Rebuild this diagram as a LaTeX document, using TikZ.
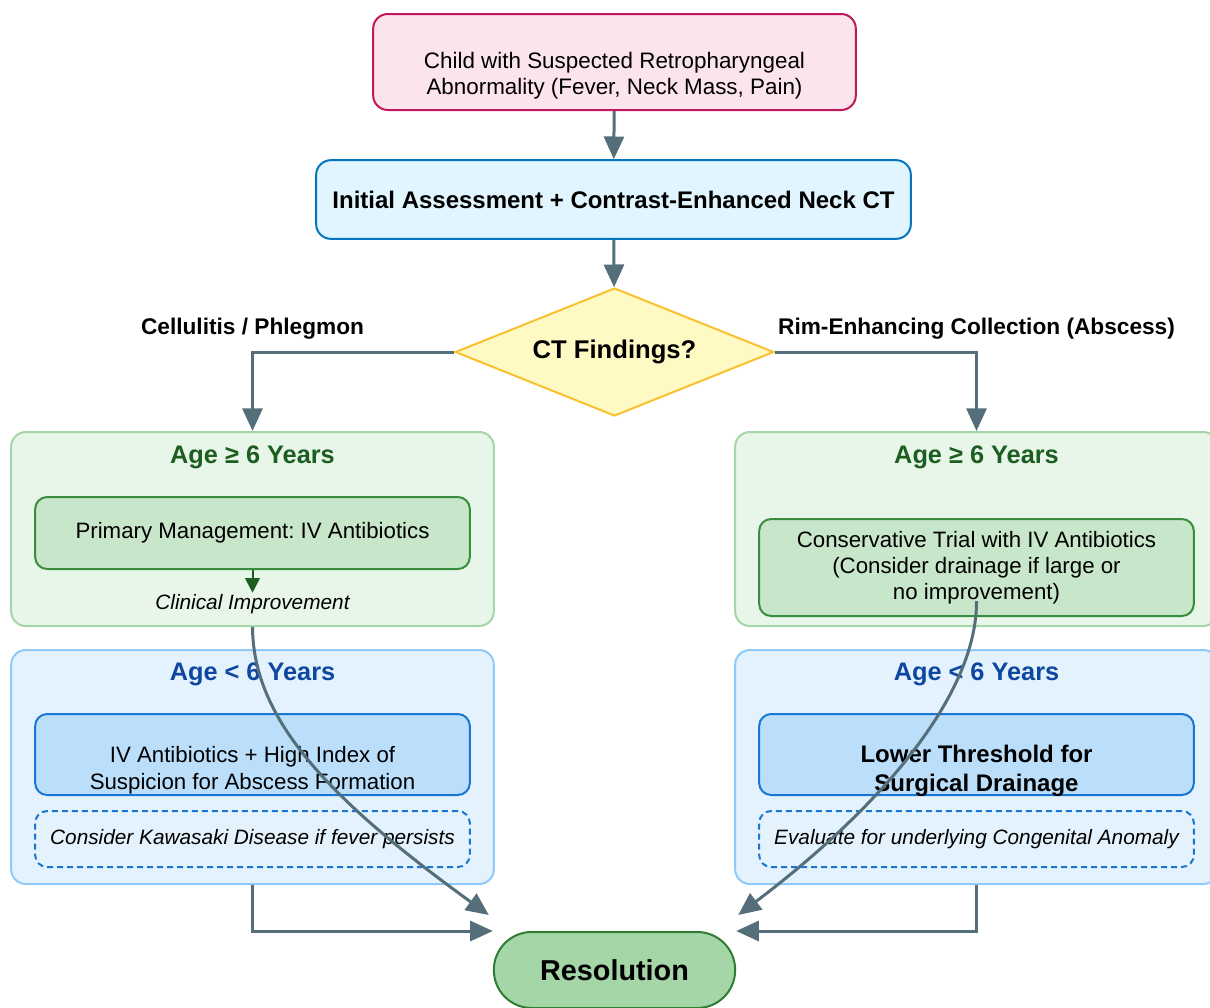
\documentclass[tikz,border=0pt]{standalone}
\usepackage{fontspec}
\setmainfont{Liberation Sans}
\usetikzlibrary{arrows.meta, positioning, shapes.geometric}
\frenchspacing

\definecolor{edgegrey}{HTML}{546E7A}
\definecolor{entryfill}{HTML}{FCE4EC}
\definecolor{entryborder}{HTML}{C2185B}
\definecolor{assessfill}{HTML}{E1F5FE}
\definecolor{assessborder}{HTML}{0277BD}
\definecolor{decfill}{HTML}{FFF9C4}
\definecolor{decborder}{HTML}{FBC02D}
\definecolor{oldfill}{HTML}{E8F5E9}
\definecolor{oldborder}{HTML}{A5D6A7}
\definecolor{oldinfill}{HTML}{C8E6C9}
\definecolor{oldinborder}{HTML}{388E3C}
\definecolor{oldtitle}{HTML}{1B5E20}
\definecolor{youngfill}{HTML}{E3F2FD}
\definecolor{youngborder}{HTML}{90CAF9}
\definecolor{younginfill}{HTML}{BBDEFB}
\definecolor{younginborder}{HTML}{1976D2}
\definecolor{youngtitle}{HTML}{0D47A1}
\definecolor{resolfill}{HTML}{A5D6A7}
\definecolor{resolborder}{HTML}{2E7D32}

\begin{document}
\begin{tikzpicture}[
            x=0.75pt, y=-0.75pt,
            base/.style={
                rectangle, 
                align=center, 
                line width=1.5pt, 
                inner sep=2pt
            },
            entrybox/.style={
                base, 
                draw=entryborder, 
                fill=entryfill, 
                rounded corners=11pt, 
                minimum width=362pt, 
                minimum height=72pt, 
                text height=52pt, 
                font=\fontsize{16.8}{19.5}\selectfont
            },
            assessbox/.style={
                base, 
                draw=assessborder, 
                fill=assessfill, 
                rounded corners=11pt, 
                minimum width=446pt, 
                minimum height=59pt, 
                font=\fontsize{18}{21}\selectfont\bfseries
            },
            decision/.style={
                diamond, 
                aspect=2.5, 
                draw=decborder, 
                fill=decfill, 
                line width=1.5pt, 
                inner sep=0pt, 
                minimum width=239pt, 
                minimum height=96pt, 
                font=\fontsize{19.2}{22}\selectfont\bfseries
            },
            groupold/.style={
                base, 
                draw=oldborder, 
                fill=oldfill, 
                rounded corners=11pt, 
                minimum width=362pt, 
                minimum height=145.5pt
            },
            groupyoung/.style={
                base, 
                draw=youngborder, 
                fill=youngfill, 
                rounded corners=11pt, 
                minimum width=362pt, 
                minimum height=175.5pt
            },
            grouptitle/.style={
                font=\fontsize{19}{22}\selectfont\bfseries
            },
            oldinner/.style={
                base, 
                draw=oldinborder, 
                fill=oldinfill, 
                rounded corners=9pt, 
                minimum width=326pt, 
                font=\fontsize{16.7}{19.5}\selectfont
            },
            younginner/.style={
                base, 
                draw=younginborder, 
                fill=younginfill, 
                rounded corners=9pt, 
                inner ysep=0pt, 
                minimum width=326pt, 
                minimum height=60.75pt
            },
            note/.style={
                base, 
                draw=younginborder, 
                dash pattern=on 4.5pt off 3pt, 
                rounded corners=9pt, 
                minimum width=326pt, 
                minimum height=42pt, 
                font=\fontsize{15.6}{18}\selectfont\itshape
            },
            resolbox/.style={
                base, 
                draw=resolborder, 
                fill=resolfill, 
                rounded corners=28.4pt, 
                minimum width=181pt, 
                minimum height=57pt, 
                font=\fontsize{21.6}{25}\selectfont\bfseries
            },
            branchlabel/.style={
                font=\fontsize{17}{19.5}\selectfont\bfseries, 
                text=black
            },
            arrow/.style={
                -{Triangle[length=17pt, width=15pt]}, 
                line width=2.25pt, 
                draw=edgegrey
            },
            smallarrow/.style={
                -{Triangle[length=11pt, width=11pt]}, 
                line width=1.5pt, 
                draw=oldtitle
            }
        ]
        \useasboundingbox (0,0) rectangle (1210,1007);
        
        % Entry and assessment
        \node (entry) [entrybox] at (614.5,62) {Child with Suspected Retropharyngeal\\Abnormality (Fever, Neck Mass, Pain)};
        \node (assess) [assessbox] at (613.5,199.5) {Initial Assessment + Contrast-Enhanced Neck CT};
        \node (ct) [decision] at (614.5,352) {CT Findings?};
        
        % Age groups, left branch
        \node (lold) [groupold] at (252.5,529) {};
        \node (loldtitle) [grouptitle, text=oldtitle] at (252.5,457) {Age ≥ 6 Years};
        \node (lprim) [oldinner, minimum height=54pt] at (252.5,533) {Primary Management: IV Antibiotics};
        \node (climp) [font=\fontsize{15.6}{18}\selectfont\itshape, inner sep=1pt] at (252.5,604) {Clinical Improvement};
        \node (lyoung) [groupyoung] at (252.5,767) {};
        \node (lyoungtitle) [grouptitle, text=youngtitle] at (252.5,674) {Age < 6 Years};
        \node (lanti) [younginner, text height=56pt, text depth=4pt, font=\fontsize{16.7}{20}\selectfont] at (252.5,754.5) {IV Antibiotics + High Index of\\Suspicion for Abscess Formation};
        \node (lkawa) [note] at (252.5,839) {Consider Kawasaki Disease if fever persists};
        
        % Age groups, right branch
        \node (rold) [groupold] at (976.5,529) {};
        \node (roldtitle) [grouptitle, text=oldtitle] at (976.5,457) {Age ≥ 6 Years};
        \node (rtrial) [oldinner, minimum height=72.75pt] at (976.5,567.5) {Conservative Trial with IV Antibiotics\\(Consider drainage if large or\\no improvement)};
        \node (ryoung) [groupyoung] at (976.5,767) {};
        \node (ryoungtitle) [grouptitle, text=youngtitle] at (976.5,674) {Age < 6 Years};
        \node (rdrain) [younginner, text height=58pt, text depth=2.5pt, font=\fontsize{18}{21.5}\selectfont\bfseries] at (976.5,754.5) {Lower Threshold for\\Surgical Drainage};
        \node (rcongen) [note] at (976.5,839) {Evaluate for underlying Congenital Anomaly};
        
        % Resolution
        \node (resol) [resolbox] at (614.5,970) {Resolution};
        \coordinate (lcurve) at ([shift={(-4,-16)}]resol.north west);
        \coordinate (rcurve) at ([shift={(2,-16)}]resol.north east);
        \coordinate (rstart) at ([shift={(0,-16)}]rtrial.south);
        
        % Arrows
        \draw[arrow] (entry) -- (assess);
        \draw[arrow] (assess) -- (ct);
        \draw[arrow] (ct.west) -| node[branchlabel, pos=0.5, above=5pt] {Cellulitis / Phlegmon} (lold.north);
        \draw[arrow] (ct.east) -| node[branchlabel, pos=0.5, above=5pt] {Rim-Enhancing Collection (Abscess)} (rold.north);
        \draw[smallarrow] (lprim.south) -- (climp.north);
        \draw[arrow] (lyoung.south) |- (resol.north west);
        \draw[arrow] (ryoung.south) |- (resol.north east);
        \draw[arrow] (lold.south) .. controls (253,720) and (330,800) .. (lcurve);
        \draw[arrow] (rstart) .. controls (977,690) and (890,800) .. (rcurve);
        
        \end{tikzpicture}
\end{document}
